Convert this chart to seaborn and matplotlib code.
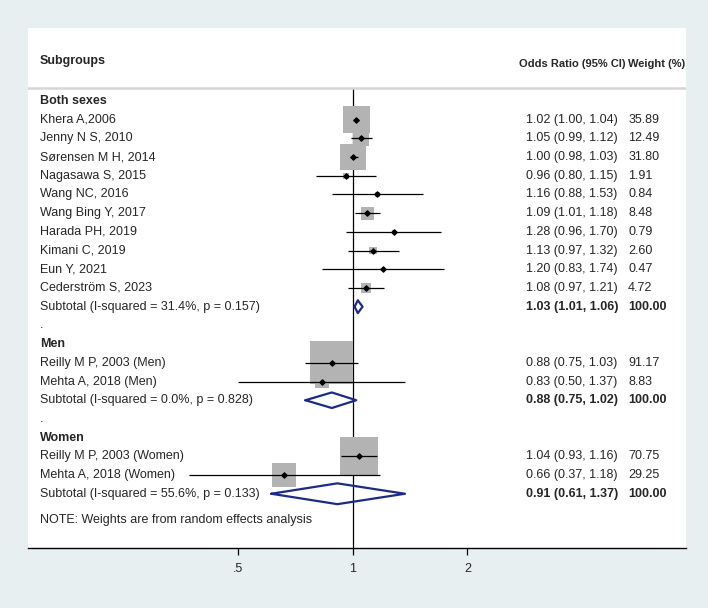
import numpy as np
import pandas as pd
import matplotlib
matplotlib.use("Agg")
import matplotlib.pyplot as plt
import matplotlib.transforms as mtransforms
import seaborn as sns

# ----------------------------------
# Data
# ----------------------------------
groups = ["Both sexes", "Men", "Women"]

studies = [
    "Khera A,2006", "Jenny N S, 2010", "Sørensen M H, 2014", "Nagasawa S, 2015",
    "Wang NC, 2016", "Wang Bing Y, 2017", "Harada PH, 2019", "Kimani C, 2019",
    "Eun Y, 2021", "Cederström S, 2023",
    "Reilly M P, 2003 (Men)", "Mehta A, 2018 (Men)",
    "Reilly M P, 2003 (Women)", "Mehta A, 2018 (Women)",
]
study_group = ["Both sexes"] * 10 + ["Men"] * 2 + ["Women"] * 2
odds = [1.02, 1.05, 1.00, 0.96, 1.16, 1.09, 1.28, 1.13, 1.20, 1.08, 0.88, 0.83, 1.04, 0.66]
ci_low = [1.00, 0.99, 0.98, 0.80, 0.88, 1.01, 0.96, 0.97, 0.83, 0.97, 0.75, 0.50, 0.93, 0.37]
ci_high = [1.04, 1.12, 1.03, 1.15, 1.53, 1.18, 1.70, 1.32, 1.74, 1.21, 1.03, 1.37, 1.16, 1.18]
weights = [35.89, 12.49, 31.80, 1.91, 0.84, 8.48, 0.79, 2.60, 0.47, 4.72, 91.17, 8.83, 70.75, 29.25]

sub_labels = [
    "Subtotal (I-squared = 31.4%, p = 0.157)",
    "Subtotal (I-squared = 0.0%, p = 0.828)",
    "Subtotal (I-squared = 55.6%, p = 0.133)",
]
sub_odds = [1.03, 0.88, 0.91]
sub_low = [1.01, 0.75, 0.61]
sub_high = [1.06, 1.02, 1.37]

tick_vals = [0.5, 1, 2]
tick_labels = [".5", "1", "2"]

# ----------------------------------
# Zeilen aufbauen
# ----------------------------------
rows = []
r = 0
for gi, g in enumerate(groups):
    rows.append(("head", g, r))
    r += 1
    for i, s in enumerate(studies):
        if study_group[i] == g:
            rows.append(("study", i, r))
            r += 1
    rows.append(("sub", gi, r))
    r += 1
    if gi < len(groups) - 1:
        rows.append(("dot", None, r))
        r += 1

df = pd.DataFrame({
    "study": studies,
    "odds": odds,
    "low": ci_low,
    "high": ci_high,
    "weight": weights,
})
df["row"] = [row for kind, idx, row in rows if kind == "study"]
df["box"] = 10.5 * df["weight"]

# ----------------------------------
# Plot
# ----------------------------------
sns.set_theme(style="white")
plt.rcParams["font.family"] = ["Liberation Sans", "DejaVu Sans"]

fig = plt.figure(figsize=(7.08, 6.08), dpi=100, facecolor="#e8eff1")
ax = fig.add_axes([28 / 708, 60 / 608, 658 / 708, 520 / 608])
ax.set_facecolor("white")
ax.set_xscale("log")
ax.set_xlim(2 ** -2.838, 2 ** 2.909)
ax.set_ylim(23.9, -3.9)

navy = "#1c2a88"

# Boxen
sns.scatterplot(data=df, x="odds", y="row", s=df["box"].values, marker="s",
                color="#b3b3b3", linewidth=0, ax=ax, zorder=2, legend=False)
# Konfidenzintervalle
ax.hlines(df["row"], df["low"], df["high"], color="black", lw=0.9, zorder=3)
# Punkte
ax.scatter(df["odds"], df["row"], marker="D", s=7, color="black", zorder=4)

# Linie bei 1
ax.vlines(1, -0.7, 23.9, color="black", lw=0.9, zorder=1)

# Trennlinie Kopfzeile
ax.axhline(-0.7, color="#d6d6d6", lw=1.8, zorder=1)

blend = mtransforms.blended_transform_factory(ax.transAxes, ax.transData)
x_lab, x_or, x_w = 0.018, 0.757, 0.912
fs = 9

for kind, idx, row in rows:
    if kind == "head":
        ax.text(x_lab, row, idx, transform=blend, va="center", ha="left",
                fontsize=fs, fontweight="bold")
    elif kind == "dot":
        ax.text(x_lab, row, ".", transform=blend, va="center", ha="left", fontsize=fs)
    elif kind == "study":
        ax.text(x_lab, row, studies[idx], transform=blend, va="center", ha="left", fontsize=fs)
        ax.text(x_or, row, f"{odds[idx]:.2f} ({ci_low[idx]:.2f}, {ci_high[idx]:.2f})",
                transform=blend, va="center", ha="left", fontsize=fs)
        ax.text(x_w, row, f"{weights[idx]:.2f}", transform=blend, va="center",
                ha="left", fontsize=fs)
    else:
        ax.text(x_lab, row, sub_labels[idx], transform=blend, va="center", ha="left", fontsize=fs)
        ax.text(x_or, row, f"{sub_odds[idx]:.2f} ({sub_low[idx]:.2f}, {sub_high[idx]:.2f})",
                transform=blend, va="center", ha="left", fontsize=fs, fontweight="bold")
        ax.text(x_w, row, "100.00", transform=blend, va="center", ha="left",
                fontsize=fs, fontweight="bold")
        # Rautenhoehe waechst leicht mit der Breite
        h = 0.33 + 0.28 * np.log(sub_high[idx] / sub_low[idx])
        ax.plot([sub_low[idx], sub_odds[idx], sub_high[idx], sub_odds[idx], sub_low[idx]],
                [row, row - h, row, row + h, row], color=navy, lw=1.6, zorder=3)

ax.text(x_lab, 22.4, "NOTE: Weights are from random effects analysis", transform=blend,
        va="center", ha="left", fontsize=fs)

# Kopfzeile
ax.text(x_lab, -2.15, "Subgroups", transform=blend, va="center", ha="left",
        fontsize=fs, fontweight="bold")
ax.text(0.746, -1.95, "Odds Ratio (95% CI)", transform=blend, va="center", ha="left",
        fontsize=8, fontweight="bold")
ax.text(0.912, -1.95, "Weight (%)", transform=blend, va="center", ha="left",
        fontsize=8, fontweight="bold")

# Achsen
for side in ["left", "top", "right"]:
    ax.spines[side].set_visible(False)
ax.spines["bottom"].set_color("black")
ax.spines["bottom"].set_linewidth(1.0)
ax.set_yticks([])
ax.set_xticks(tick_vals)
ax.set_xticklabels(tick_labels, fontsize=fs)
ax.minorticks_off()
ax.tick_params(axis="x", direction="out", length=5, width=0.9, color="black", pad=6,
               bottom=True)
ax.set_xlabel("")
ax.set_ylabel("")

fig.savefig("out.png", dpi=100, facecolor=fig.get_facecolor())
